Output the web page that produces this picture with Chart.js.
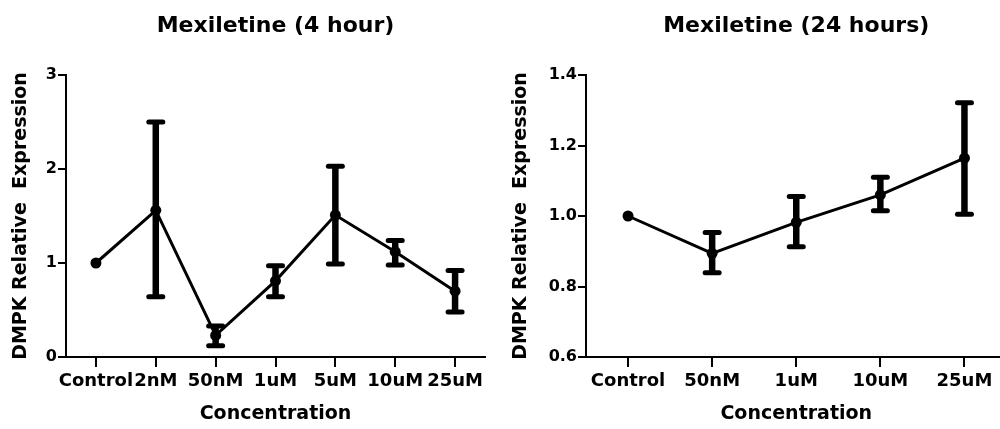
<!DOCTYPE html>
<html>
<head>
<meta charset="utf-8">
<title>Mexiletine DMPK expression</title>
<script src="https://cdn.jsdelivr.net/npm/chart.js@4.4.1/dist/chart.umd.min.js"></script>
<style>
    html, body { margin: 0; padding: 0; background: #fff; overflow: hidden; }
    #wrap { position: relative; width: 1000px; height: 429px; overflow: hidden; }
    .panel { position: absolute; top: 0; height: 429px; }
    #left { left: 0; width: 500px; }
    #right { left: 500px; width: 512px; }
</style>
</head>
<body>
<div id="wrap">
    <div class="panel" id="left"><canvas id="chart-4h" width="500" height="429"></canvas></div>
    <div class="panel" id="right"><canvas id="chart-24h" width="512" height="429"></canvas></div>
</div>
<script>
// 4 hour panel
const labels4h = ['Control', '2nM', '50nM', '1uM', '5uM', '10uM', '25uM'];
const mean4h = [1.00, 1.56, 0.23, 0.81, 1.51, 1.12, 0.70];
const upper4h = [null, 2.50, 0.33, 0.97, 2.03, 1.24, 0.92];
const lower4h = [null, 0.64, 0.12, 0.64, 0.99, 0.98, 0.48];

// 24 hour panel
const labels24h = ['Control', '50nM', '1uM', '10uM', '25uM'];
const mean24h = [1.00, 0.894, 0.982, 1.06, 1.164];
const upper24h = [null, 0.953, 1.055, 1.11, 1.321];
const lower24h = [null, 0.839, 0.913, 1.015, 1.005];

Chart.defaults.font.family = '"DejaVu Sans", sans-serif';
Chart.defaults.color = '#000';

// draws the SEM bars with caps, using the chart's own y scale
const errorBars = {
    id: 'errorBars',
    afterDatasetsDraw(chart) {
        const ctx = chart.ctx;
        const yScale = chart.scales.y;
        chart.data.datasets.forEach((ds, di) => {
            const meta = chart.getDatasetMeta(di);
            meta.data.forEach((pt, i) => {
                const hi = ds.errUpper[i];
                const lo = ds.errLower[i];
                if (hi == null || lo == null) return;
                const yHi = yScale.getPixelForValue(hi);
                const yLo = yScale.getPixelForValue(lo);
                ctx.save();
                ctx.strokeStyle = '#000';
                ctx.lineWidth = 6.5;
                ctx.lineCap = 'butt';
                ctx.beginPath();
                ctx.moveTo(pt.x, yHi);
                ctx.lineTo(pt.x, yLo);
                ctx.stroke();
                ctx.lineWidth = 5;
                ctx.lineCap = 'round';
                [yHi, yLo].forEach(y => {
                    ctx.beginPath();
                    ctx.moveTo(pt.x - 7, y);
                    ctx.lineTo(pt.x + 7, y);
                    ctx.stroke();
                });
                ctx.restore();
            });
        });
    }
};

function makeChart(id, titleText, labels, means, upper, lower, yMin, yMax, yStep, decimals, yWidth, padRight) {
    return new Chart(document.getElementById(id), {
        type: 'line',
        data: {
            labels: labels,
            datasets: [{
                data: means,
                errUpper: upper,
                errLower: lower,
                borderColor: '#000',
                borderWidth: 3,
                pointRadius: 5.5,
                pointBackgroundColor: '#000',
                pointBorderWidth: 0,
                tension: 0
            }]
        },
        options: {
            responsive: false,
            animation: false,
            layout: { padding: { left: 0, top: 0, right: padRight, bottom: 0 } },
            plugins: {
                legend: { display: false },
                tooltip: { enabled: false },
                title: {
                    display: true,
                    text: titleText,
                    fullSize: false,
                    color: '#000',
                    font: { size: 22, weight: 'bold' },
                    padding: { top: 13, bottom: 35.6 }
                }
            },
            scales: {
                x: {
                    offset: true,
                    ticks: {
                        color: '#000',
                        font: { size: 18, weight: 'bold' },
                        padding: 4,
                        maxRotation: 0,
                        autoSkip: false
                    },
                    grid: { drawOnChartArea: false, tickLength: 10, color: '#000', lineWidth: 2, offset: false },
                    border: { color: '#000', width: 2 },
                    title: {
                        display: true,
                        text: 'Concentration',
                        color: '#000',
                        font: { size: 19, weight: 'bold' },
                        padding: { top: 0, bottom: 4 }
                    },
                    afterFit(scale) { scale.height = 72; }
                },
                y: {
                    min: yMin,
                    max: yMax,
                    ticks: {
                        stepSize: yStep,
                        color: '#000',
                        font: { size: 16, weight: 'bold' },
                        padding: 1,
                        callback: v => Number(v).toFixed(decimals)
                    },
                    grid: { drawOnChartArea: false, tickLength: 8, color: '#000', lineWidth: 2 },
                    border: { color: '#000', width: 2 },
                    title: {
                        display: true,
                        text: 'DMPK Relative  Expression',
                        color: '#000',
                        font: { size: 19, weight: 'bold' },
                        padding: { top: 10, bottom: 0 }
                    },
                    afterFit(scale) { scale.width = yWidth; }
                }
            }
        },
        plugins: [errorBars]
    });
}

makeChart('chart-4h', 'Mexiletine (4 hour)', labels4h, mean4h, upper4h, lower4h, 0, 3, 1, 0, 66, 15);
makeChart('chart-24h', 'Mexiletine (24 hours)', labels24h, mean24h, upper24h, lower24h, 0.6, 1.4, 0.2, 1, 86, 0);
</script>
</body>
</html>
